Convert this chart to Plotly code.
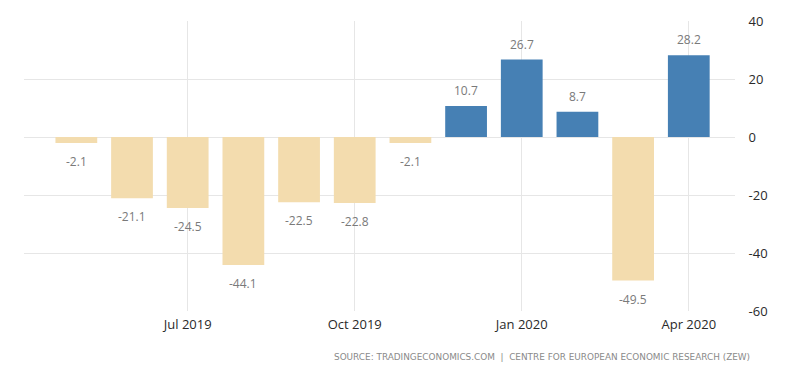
import plotly.graph_objects as go

months = ["May 2019", "Jun 2019", "Jul 2019", "Aug 2019", "Sep 2019", "Oct 2019",
          "Nov 2019", "Dec 2019", "Jan 2020", "Feb 2020", "Mar 2020", "Apr 2020"]
values = [-2.1, -21.1, -24.5, -44.1, -22.5, -22.8, -2.1, 10.7, 26.7, 8.7, -49.5, 28.2]
tick_labels = ["Jul 2019", "Oct 2019", "Jan 2020", "Apr 2020"]
tick_months = ["Jul 2019", "Oct 2019", "Jan 2020", "Apr 2020"]
y_ticks = [-60, -40, -20, 0, 20, 40]
y_tick_text = ["-60", "-40", "-20", "0", "20", "40"]

BLUE = "#4680b4"
BEIGE = "#f3dcae"

xs = list(range(len(months)))
colors = [BLUE if v >= 0 else BEIGE for v in values]

fig = go.Figure()
fig.add_trace(go.Bar(x=xs, y=values, marker=dict(color=colors, line=dict(width=0)),
                     width=0.75, hoverinfo="skip"))

for x, v in zip(xs, values):
    fig.add_annotation(x=x, y=v, text=f"{v:.1f}", showarrow=False,
                       yanchor="bottom" if v >= 0 else "top",
                       yshift=5 if v >= 0 else -8,
                       font=dict(family="Open Sans", size=12, color="#7a7a7a"))

fig.add_annotation(xref="paper", yref="paper", x=1.024, y=0, xanchor="right", yanchor="middle",
                   yshift=-46, showarrow=False,
                   text="SOURCE: TRADINGECONOMICS.COM  |  CENTRE FOR EUROPEAN ECONOMIC RESEARCH (ZEW)",
                   font=dict(family="DejaVu Sans", size=8.9, color="#8a8a8a"))

fig.update_layout(
    width=792, height=365,
    margin=dict(l=16, r=65, t=13, b=62, autoexpand=False),
    paper_bgcolor="white", plot_bgcolor="white",
    showlegend=False,
    bargap=0.25,
    xaxis=dict(range=[-0.94, 11.83], tickvals=[months.index(m) for m in tick_months],
               ticktext=tick_labels, showgrid=True, gridcolor="#e6e6e6", gridwidth=1,
               zeroline=False, showline=False, ticks="outside", ticklen=1, tickcolor="rgba(0,0,0,0)",
               automargin=False,
               tickfont=dict(family="Open Sans", size=13, color="#2a2a2a")),
    yaxis=dict(range=[-60, 40], tickvals=y_ticks, ticktext=y_tick_text, side="right", showgrid=True,
               gridcolor="#e6e6e6", gridwidth=1, zeroline=False, showline=False,
               ticks="outside", ticklen=10, tickcolor="rgba(0,0,0,0)", automargin=False,
               tickfont=dict(family="Open Sans", size=13, color="#2a2a2a")),
)

fig.write_html("out.html")
